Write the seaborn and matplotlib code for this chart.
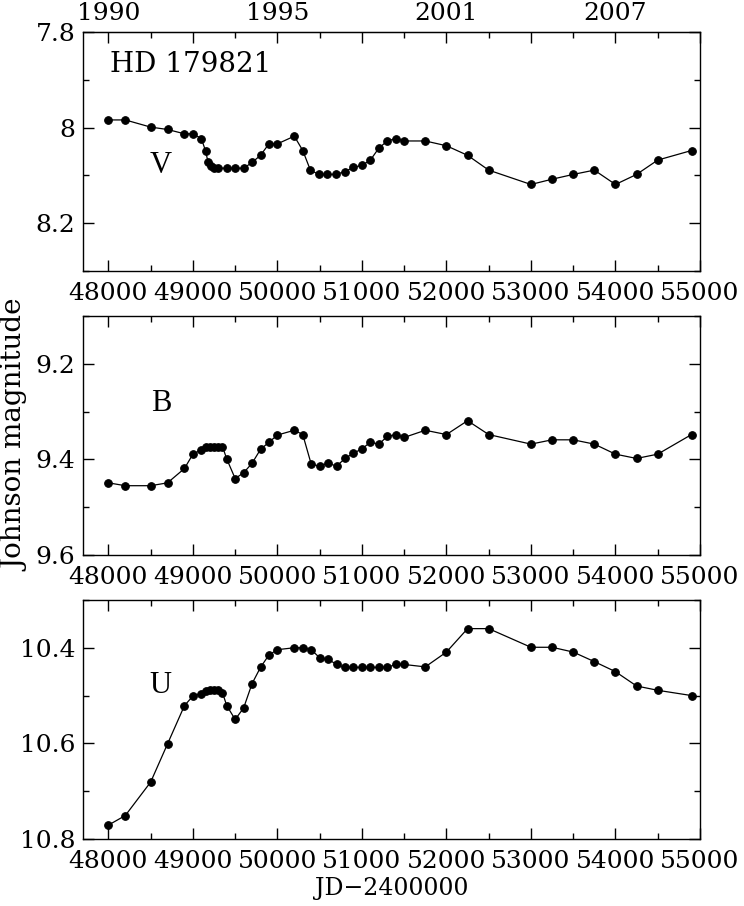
import numpy as np
import pandas as pd
import matplotlib
matplotlib.use("Agg")
import matplotlib.pyplot as plt
import seaborn as sns
from matplotlib.ticker import FixedLocator, MultipleLocator

# V band
jd_v = [48000, 48200, 48500, 48700, 48900, 49000, 49100, 49150, 49180, 49210,
        49250, 49300, 49400, 49500, 49600, 49700, 49800, 49900, 50000, 50200,
        50300, 50390, 50490, 50590, 50690, 50800, 50900, 51000, 51100, 51200,
        51300, 51400, 51500, 51750, 52000, 52250, 52500, 53000, 53250, 53500,
        53750, 54000, 54250, 54500, 54900]
mag_v = [7.984, 7.984, 7.999, 8.004, 8.013, 8.013, 8.023, 8.049, 8.073, 8.080,
         8.085, 8.085, 8.085, 8.085, 8.085, 8.073, 8.058, 8.034, 8.034, 8.018,
         8.048, 8.089, 8.098, 8.098, 8.098, 8.092, 8.083, 8.079, 8.068, 8.043,
         8.028, 8.023, 8.028, 8.028, 8.038, 8.058, 8.089, 8.119, 8.108, 8.098,
         8.089, 8.119, 8.098, 8.068, 8.048]

# B band
jd_b = [48000, 48200, 48500, 48700, 48900, 49000, 49100, 49150, 49200, 49250,
        49300, 49350, 49400, 49500, 49600, 49700, 49800, 49900, 50000, 50200,
        50300, 50400, 50500, 50600, 50700, 50800, 50900, 51000, 51100, 51200,
        51300, 51400, 51500, 51750, 52000, 52250, 52500, 53000, 53250, 53500,
        53750, 54000, 54250, 54500, 54900]
mag_b = [9.449, 9.455, 9.455, 9.449, 9.419, 9.389, 9.380, 9.375, 9.373, 9.373,
         9.373, 9.373, 9.399, 9.440, 9.428, 9.408, 9.379, 9.364, 9.349, 9.339,
         9.348, 9.410, 9.414, 9.408, 9.414, 9.398, 9.387, 9.378, 9.364, 9.368,
         9.352, 9.348, 9.354, 9.339, 9.348, 9.319, 9.348, 9.368, 9.359, 9.359,
         9.368, 9.389, 9.398, 9.389, 9.348]

# U band
jd_u = [48000, 48200, 48500, 48700, 48900, 49000, 49100, 49150, 49200, 49250,
        49300, 49350, 49400, 49500, 49600, 49700, 49800, 49900, 50000, 50200,
        50300, 50400, 50500, 50600, 50700, 50800, 50900, 51000, 51100, 51200,
        51300, 51400, 51500, 51750, 52000, 52250, 52500, 53000, 53250, 53500,
        53750, 54000, 54250, 54500, 54900]
mag_u = [10.771, 10.751, 10.681, 10.601, 10.521, 10.501, 10.496, 10.491, 10.489, 10.489,
         10.489, 10.494, 10.521, 10.550, 10.526, 10.475, 10.441, 10.415, 10.404, 10.400,
         10.400, 10.404, 10.421, 10.424, 10.435, 10.441, 10.441, 10.441, 10.441, 10.441,
         10.441, 10.435, 10.435, 10.440, 10.409, 10.360, 10.360, 10.399, 10.399, 10.409,
         10.429, 10.450, 10.480, 10.489, 10.500]

year_ticks = [48000, 50000, 52000, 54000]
year_labels = ["1990", "1995", "2001", "2007"]

sns.set_style("ticks")
plt.rcParams["font.family"] = ["DejaVu Serif"]
for k in ["text.color", "axes.labelcolor", "xtick.color", "ytick.color", "axes.edgecolor"]:
    plt.rcParams[k] = "black"

fig = plt.figure(figsize=(7.44, 9.06), dpi=100)
left, width, height = 0.1122, 0.8286, 0.2638
bottoms = [0.7009, 0.3874, 0.0740]

panels = [
    (jd_v, mag_v, (8.3, 7.8), [7.8, 8.0, 8.2], "V", 8.080),
    (jd_b, mag_b, (9.6, 9.1), [9.2, 9.4, 9.6], "B", 9.284),
    (jd_u, mag_u, (10.8, 10.3), [10.4, 10.6, 10.8], "U", 10.480),
]

axes = []
for (jd, mag, ylim, yt, band, ylab_pos), b in zip(panels, bottoms):
    ax = fig.add_axes([left, b, width, height])
    df = pd.DataFrame({"jd": jd, "mag": mag})
    sns.lineplot(data=df, x="jd", y="mag", ax=ax, color="black", linewidth=0.9,
                 marker="o", markersize=5.5, markeredgecolor="black",
                 estimator=None, sort=False)
    ax.set_xlim(47705, 55000)
    ax.set_ylim(*ylim)
    ax.xaxis.set_major_locator(MultipleLocator(1000))
    ax.xaxis.set_minor_locator(MultipleLocator(500))
    ax.yaxis.set_major_locator(FixedLocator(yt))
    ax.yaxis.set_minor_locator(MultipleLocator(0.1))
    ax.set_yticklabels(["%g" % v for v in yt])
    ax.tick_params(which="both", direction="in", top=True, right=True,
                   labelsize=18, width=1.0, color="black")
    ax.tick_params(which="major", length=8)
    ax.tick_params(which="minor", length=4)
    ax.tick_params(axis="x", pad=8)
    ax.tick_params(axis="y", pad=6)
    for s in ax.spines.values():
        s.set_linewidth(1.0)
        s.set_color("black")
    ax.set_xlabel("")
    ax.set_ylabel("")
    ax.text(48620, ylab_pos, band, fontsize=22, family="Liberation Serif",
            ha="center", va="center")
    axes.append(ax)

axes[0].text(48020, 7.869, "HD 179821", fontsize=20, ha="left", va="center")

top = axes[0].secondary_xaxis("top")
top.set_xticks(year_ticks)
top.set_xticklabels(year_labels)
top.tick_params(length=0, labelsize=18, pad=5)

axes[2].set_xlabel("JD\u22122400000", fontsize=17, labelpad=3)
fig.text(0.021, 0.52, "Johnson magnitude", rotation=90, fontsize=20,
         ha="center", va="center")

fig.savefig("out.png", dpi=100)
